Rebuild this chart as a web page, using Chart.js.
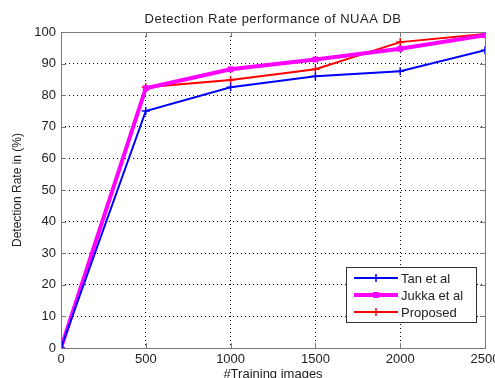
<!DOCTYPE html>
<html><head><meta charset="utf-8">
<script src="https://cdn.jsdelivr.net/npm/chart.js@4.4.1/dist/chart.umd.min.js"></script>
<style>html,body{margin:0;padding:0;background:#fff}#wrap{width:495px;height:378px}</style>
</head><body><div id="wrap"><canvas id="c" width="495" height="378"></canvas></div>
<script>
const trainingImages = [0, 500, 1000, 1500, 2000, 2500];
const tanEtAl = [0, 75, 82.5, 86, 87.6, 94.2];
const jukkaEtAl = [0, 82.2, 88.2, 91.3, 94.7, 99];
const proposed = [0, 82.5, 84.8, 88.2, 96.8, 99.4];
const xTicks = [0, 500, 1000, 1500, 2000, 2500];
const yTicks = [0, 10, 20, 30, 40, 50, 60, 70, 80, 90, 100];
const chartTitle = 'Detection Rate performance of NUAA DB';
const xTitle = '#Training images';
const yTitle = 'Detection Rate in (%)';

const FONT = '"Liberation Sans", Arial, sans-serif';
const toXY = (arr) => arr.map((v, i) => ({x: trainingImages[i], y: v}));

const framePlugin = {
  id: 'frame',
  afterDatasetsDraw(chart) {
    const {ctx, chartArea: a, scales} = chart;
    ctx.save();
    ctx.strokeStyle = '#7a7a7a';
    ctx.lineWidth = 1;
    ctx.strokeRect(a.left + 0.5, a.top + 0.5, a.right - a.left, a.bottom - a.top);
    ctx.beginPath();
    xTicks.forEach(t => {
      const x = Math.round(scales.x.getPixelForValue(t)) + 0.5;
      ctx.moveTo(x, a.bottom); ctx.lineTo(x, a.bottom - 5);
      ctx.moveTo(x, a.top); ctx.lineTo(x, a.top + 5);
    });
    yTicks.forEach(t => {
      const y = Math.round(scales.y.getPixelForValue(t)) + 0.5;
      ctx.moveTo(a.left, y); ctx.lineTo(a.left + 5, y);
      ctx.moveTo(a.right, y); ctx.lineTo(a.right - 5, y);
    });
    ctx.stroke();
    ctx.fillStyle = '#222';
    ctx.textAlign = 'center';
    ctx.textBaseline = 'middle';
    ctx.font = '13px ' + FONT;
    try { ctx.letterSpacing = '0.5px'; } catch (e) {}
    ctx.fillText(chartTitle, (a.left + a.right) / 2, 19);
    try { ctx.letterSpacing = '0px'; } catch (e) {}
    xTicks.forEach(t => {
      ctx.fillText(String(t), scales.x.getPixelForValue(t), a.bottom + 11);
    });
    ctx.fillText(xTitle, (a.left + a.right) / 2, a.bottom + 26);
    // legend
    const lx = 346, ly = 267, lw = 130, lh = 55;
    ctx.fillStyle = '#fff';
    ctx.fillRect(lx, ly, lw, lh);
    ctx.strokeStyle = '#333';
    ctx.lineWidth = 1;
    ctx.strokeRect(lx + 0.5, ly + 0.5, lw, lh);
    ctx.font = '13px ' + FONT;
    ctx.textAlign = 'left';
    chart.data.datasets.forEach((ds, i) => {
      const y = ly + 11 + i * 17;
      ctx.strokeStyle = ds.borderColor;
      ctx.lineWidth = ds.borderWidth;
      ctx.beginPath(); ctx.moveTo(lx + 8, y); ctx.lineTo(lx + 52, y); ctx.stroke();
      const cx = lx + 30;
      if (ds.pointStyle === 'rect') {
        ctx.fillStyle = ds.borderColor;
        ctx.fillRect(cx - 3, y - 3, 6, 6);
      } else {
        ctx.lineWidth = 1.5;
        ctx.beginPath(); ctx.moveTo(cx, y - 4); ctx.lineTo(cx, y + 4); ctx.stroke();
      }
      ctx.fillStyle = '#222';
      ctx.fillText(ds.label, lx + 55, y + 1);
    });
    ctx.restore();
  }
};

new Chart(document.getElementById('c'), {
  type: 'line',
  data: {
    datasets: [
      {label: 'Tan et al', data: toXY(tanEtAl), borderColor: '#0000ff', backgroundColor: '#0000ff', borderWidth: 2, pointStyle: 'cross', pointRadius: 4, pointBorderWidth: 1.5},
      {label: 'Jukka et al', data: toXY(jukkaEtAl), borderColor: '#ff00ff', backgroundColor: '#ff00ff', borderWidth: 4, pointStyle: 'rect', pointRadius: 3.5, pointBorderWidth: 1},
      {label: 'Proposed', data: toXY(proposed), borderColor: '#ff0000', backgroundColor: '#ff0000', borderWidth: 2, pointStyle: 'cross', pointRadius: 4, pointBorderWidth: 1.5}
    ]
  },
  options: {
    responsive: false,
    animation: false,
    layout: {padding: {left: 0, right: 10, top: 32, bottom: 0}},
    plugins: {
      legend: {display: false},
      tooltip: {enabled: false},
      title: {display: false}
    },
    scales: {
      x: {
        type: 'linear', min: 0, max: 2500,
        afterBuildTicks: s => { s.ticks = xTicks.map(v => ({value: v})); },
        afterFit: s => { s.height = 30; },
        ticks: {display: false},
        grid: {color: '#000', lineWidth: 1, drawTicks: false, tickLength: 0},
        border: {display: false, dash: [1, 3]}
      },
      y: {
        type: 'linear', min: 0, max: 100,
        afterBuildTicks: s => { s.ticks = yTicks.map(v => ({value: v})); },
        afterFit: s => { s.width = 61; },
        ticks: {color: '#222', font: {family: FONT, size: 13}, padding: 5},
        grid: {color: '#000', lineWidth: 1, drawTicks: false, tickLength: 0},
        border: {display: false, dash: [1, 3]},
        title: {display: true, text: yTitle, color: '#222', font: {family: FONT, size: 12}, padding: {top: 10, bottom: 2}}
      }
    }
  },
  plugins: [framePlugin]
});
</script></body></html>
